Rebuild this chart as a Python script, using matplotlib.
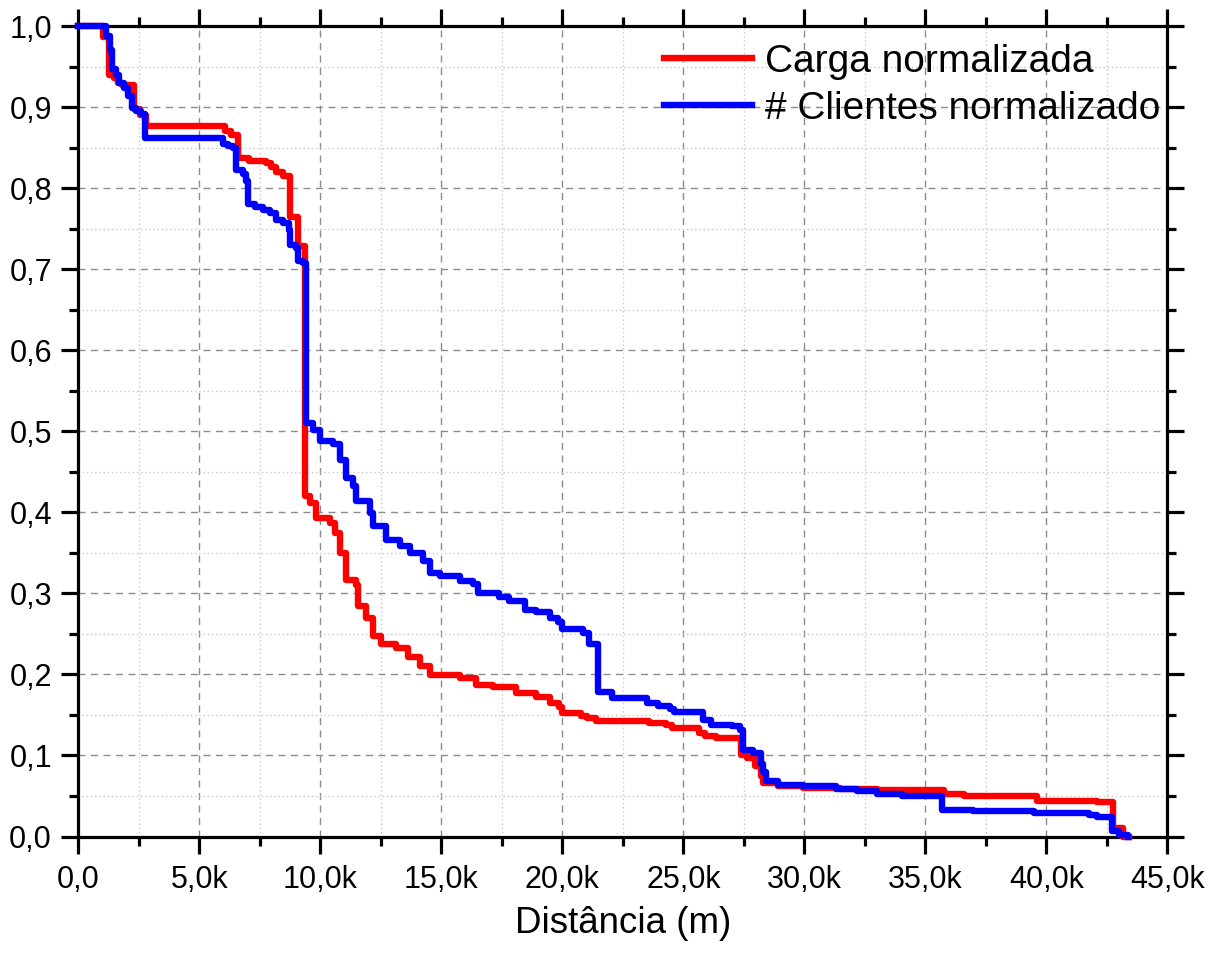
import matplotlib
matplotlib.use("Agg")
import matplotlib.pyplot as plt
from matplotlib.ticker import MultipleLocator, FuncFormatter

plt.rcParams['font.family'] = ['Liberation Sans', 'DejaVu Sans']

# distance (k m) where each step starts, and the level after it
carga_x = [0, 1.0, 1.27, 1.48, 1.65, 1.82, 2.3, 2.55, 2.79, 6.04, 6.3, 6.59, 7.07, 7.76, 7.97,
           8.18, 8.45, 8.73, 9.07, 9.35, 9.56, 9.83, 10.39, 10.6, 10.8, 11.07, 11.49, 11.56,
           11.9, 12.18, 12.52, 13.14, 13.62, 14.1, 14.52, 15.76, 16.45, 17.13, 18.1, 18.93,
           19.48, 19.85, 20.0, 20.77, 21.03, 21.37, 23.6, 24.28, 24.54, 25.65, 25.9, 26.34,
           27.4, 27.62, 27.96, 28.2, 28.3, 28.9, 29.93, 31.47, 33.0, 35.75, 36.6, 39.6, 42.1,
           42.5, 42.77, 43.15, 43.4]
carga_y = [1.0, 0.986, 0.94, 0.936, 0.93, 0.927, 0.897, 0.89, 0.877, 0.871, 0.866, 0.837, 0.834,
           0.831, 0.826, 0.82, 0.815, 0.764, 0.729, 0.42, 0.411, 0.393, 0.387, 0.374, 0.35,
           0.317, 0.31, 0.284, 0.27, 0.247, 0.237, 0.232, 0.222, 0.21, 0.199, 0.195, 0.187,
           0.184, 0.177, 0.172, 0.165, 0.16, 0.152, 0.149, 0.146, 0.143, 0.14, 0.138, 0.134,
           0.128, 0.124, 0.121, 0.1, 0.097, 0.087, 0.075, 0.066, 0.062, 0.06, 0.058, 0.057,
           0.052, 0.05, 0.044, 0.043, 0.042, 0.011, 0.0, 0.0]

clientes_x = [0, 1.13, 1.3, 1.38, 1.55, 1.7, 1.9, 2.05, 2.2, 2.4, 2.6, 2.76, 5.97, 6.2, 6.4,
              6.52, 6.8, 6.93, 7.0, 7.28, 7.62, 7.9, 8.18, 8.45, 8.7, 8.76, 9.0, 9.07, 9.28,
              9.4, 9.7, 9.97, 10.52, 10.8, 11.07, 11.35, 11.49, 12.04, 12.18, 12.73, 13.28,
              13.69, 14.24, 14.52, 14.93, 15.76, 16.3, 16.5, 17.4, 17.8, 18.44, 18.93, 19.48,
              19.8, 20.0, 20.86, 21.1, 21.46, 22.05, 23.5, 23.94, 24.45, 24.6, 25.82, 26.16,
              27.0, 27.36, 27.45, 27.88, 28.2, 28.3, 28.4, 28.9, 29.93, 31.3, 32.16, 33.0,
              34.04, 35.7, 36.95, 39.5, 41.75, 42.1, 42.72, 43.0, 43.37]
clientes_y = [1.0, 0.988, 0.971, 0.947, 0.94, 0.93, 0.924, 0.914, 0.899, 0.895, 0.891, 0.862,
              0.854, 0.852, 0.85, 0.822, 0.818, 0.809, 0.781, 0.777, 0.773, 0.769, 0.761,
              0.757, 0.748, 0.73, 0.726, 0.71, 0.708, 0.51, 0.502, 0.488, 0.484, 0.465, 0.442,
              0.432, 0.414, 0.399, 0.383, 0.366, 0.358, 0.35, 0.34, 0.325, 0.321, 0.315, 0.311,
              0.3, 0.296, 0.29, 0.28, 0.277, 0.27, 0.265, 0.256, 0.251, 0.237, 0.178, 0.171,
              0.165, 0.161, 0.157, 0.153, 0.144, 0.138, 0.136, 0.132, 0.107, 0.103, 0.089,
              0.079, 0.068, 0.064, 0.062, 0.058, 0.056, 0.052, 0.05, 0.033, 0.032, 0.029,
              0.027, 0.024, 0.007, 0.002, 0.0]

fig = plt.figure(figsize=(12.11, 9.56), dpi=100)
ax = fig.add_axes([0.0647, 0.125, 0.8993, 0.8478])

ax.step([v * 1000 for v in carga_x], carga_y, where='post', color='#ff0000', lw=4.6,
        label='Carga normalizada', zorder=3, clip_on=False)
ax.step([v * 1000 for v in clientes_x], clientes_y, where='post', color='#0000ff', lw=4.6,
        label='# Clientes normalizado', zorder=3.1, clip_on=False)

ax.set_xlim(0, 45000)
ax.set_ylim(0, 1.0)
ax.xaxis.set_major_locator(MultipleLocator(5000))
ax.xaxis.set_minor_locator(MultipleLocator(2500))
ax.yaxis.set_major_locator(MultipleLocator(0.1))
ax.yaxis.set_minor_locator(MultipleLocator(0.05))

def fmt_x(v, pos):
    if v == 0:
        return '0,0'
    return ('%.1fk' % (v / 1000)).replace('.', ',')

ax.xaxis.set_major_formatter(FuncFormatter(fmt_x))
ax.yaxis.set_major_formatter(FuncFormatter(lambda v, p: ('%.1f' % v).replace('.', ',')))

ax.grid(which='major', color='#8c8c8c', linestyle=(0, (5, 4)), lw=1.0)
ax.grid(which='minor', color='#c8c8c8', linestyle=(0, (1, 2)), lw=1.0)
ax.set_axisbelow(True)

for s in ax.spines.values():
    s.set_linewidth(2.3)
ax.tick_params(which='both', direction='out', top=True, right=True, width=2.3,
               labelsize=22)
ax.tick_params(which='major', length=12)
ax.tick_params(which='minor', length=6.7)
ax.tick_params(axis='x', pad=8.5)
ax.tick_params(axis='y', pad=7)

ax.set_xlabel('Distância (m)', fontsize=26.5, labelpad=8)

leg = ax.legend(loc='upper left', bbox_to_anchor=(664 / 1211, 1 - 44 / 956),
                bbox_transform=fig.transFigure, frameon=False, fontsize=28,
                handlelength=2.27, handletextpad=0.33, borderpad=0, borderaxespad=0,
                labelspacing=0.28)

fig.savefig('out.png', dpi=100)
